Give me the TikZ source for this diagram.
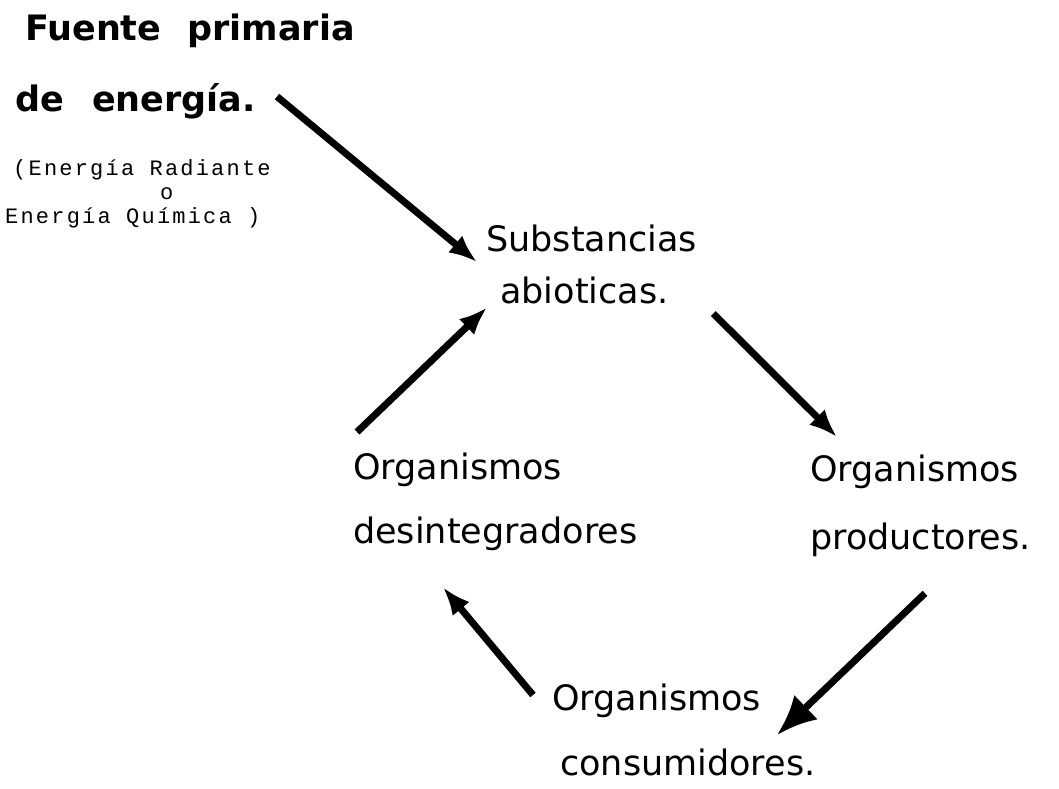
\documentclass[tikz,border=0pt]{standalone}
\usepackage{fontspec}
\setmainfont{DejaVu Sans}
\newfontfamily\maquina[LetterSpace=10]{Liberation Mono}
\usetikzlibrary{arrows.meta, calc}

\begin{document}
\begin{tikzpicture}[x=1pt,y=-1pt,
		caja/.style={anchor=north west, inner sep=0pt, align=left, font=\fontsize{35}{64}\selectfont},
		flecha/.style={line width=7pt, -{Latex[length=28pt,width=22pt]}}]
		\useasboundingbox (0,0) rectangle (1059,788);
		\node[caja, font=\bfseries\fontsize{35}{71}\selectfont] (fuente) at (15,14) {\hspace*{10pt}Fuente\hspace{14pt} primaria\\de\hspace{16pt} energía.};
		\node[caja, font=\maquina\fontsize{22}{24}\selectfont] (nota) at (5,159) {\hspace*{8pt}(Energía Radiante\\\hspace*{155pt}o\\Energía Química )};
		\node[caja, font=\fontsize{35}{52}\selectfont] (subs) at (486,225) {Substancias\\\hspace*{14pt}abioticas.};
		\node[caja] (desint) at (353,453) {Organismos\\desintegradores};
		\node[caja, font=\fontsize{35}{68}\selectfont] (prod) at (810,455) {Organismos\\productores.};
		\node[caja, font=\fontsize{35}{65}\selectfont] (cons) at (552,684) {Organismos\\\hspace*{8pt}consumidores.};
		\draw[flecha] ($(fuente.south west)+(262,-23)$) -- ($(subs.north west)+(-9,37)$);
		\draw[flecha] ($(subs.south east)+(16,9)$) -- ($(prod.north west)+(27,-18)$);
		\draw[flecha, -{Latex[length=40pt,width=34pt]}] ($(prod.south west)+(115,36)$) -- ($(cons.north west)+(225,51)$);
		\draw[flecha] ($(cons.north west)+(-19,11)$) -- ($(desint.south west)+(90,36)$);
		\draw[flecha] ($(desint.north west)+(4,-21)$) -- ($(subs.south west)+(1,3)$);
	\end{tikzpicture}
\end{document}
